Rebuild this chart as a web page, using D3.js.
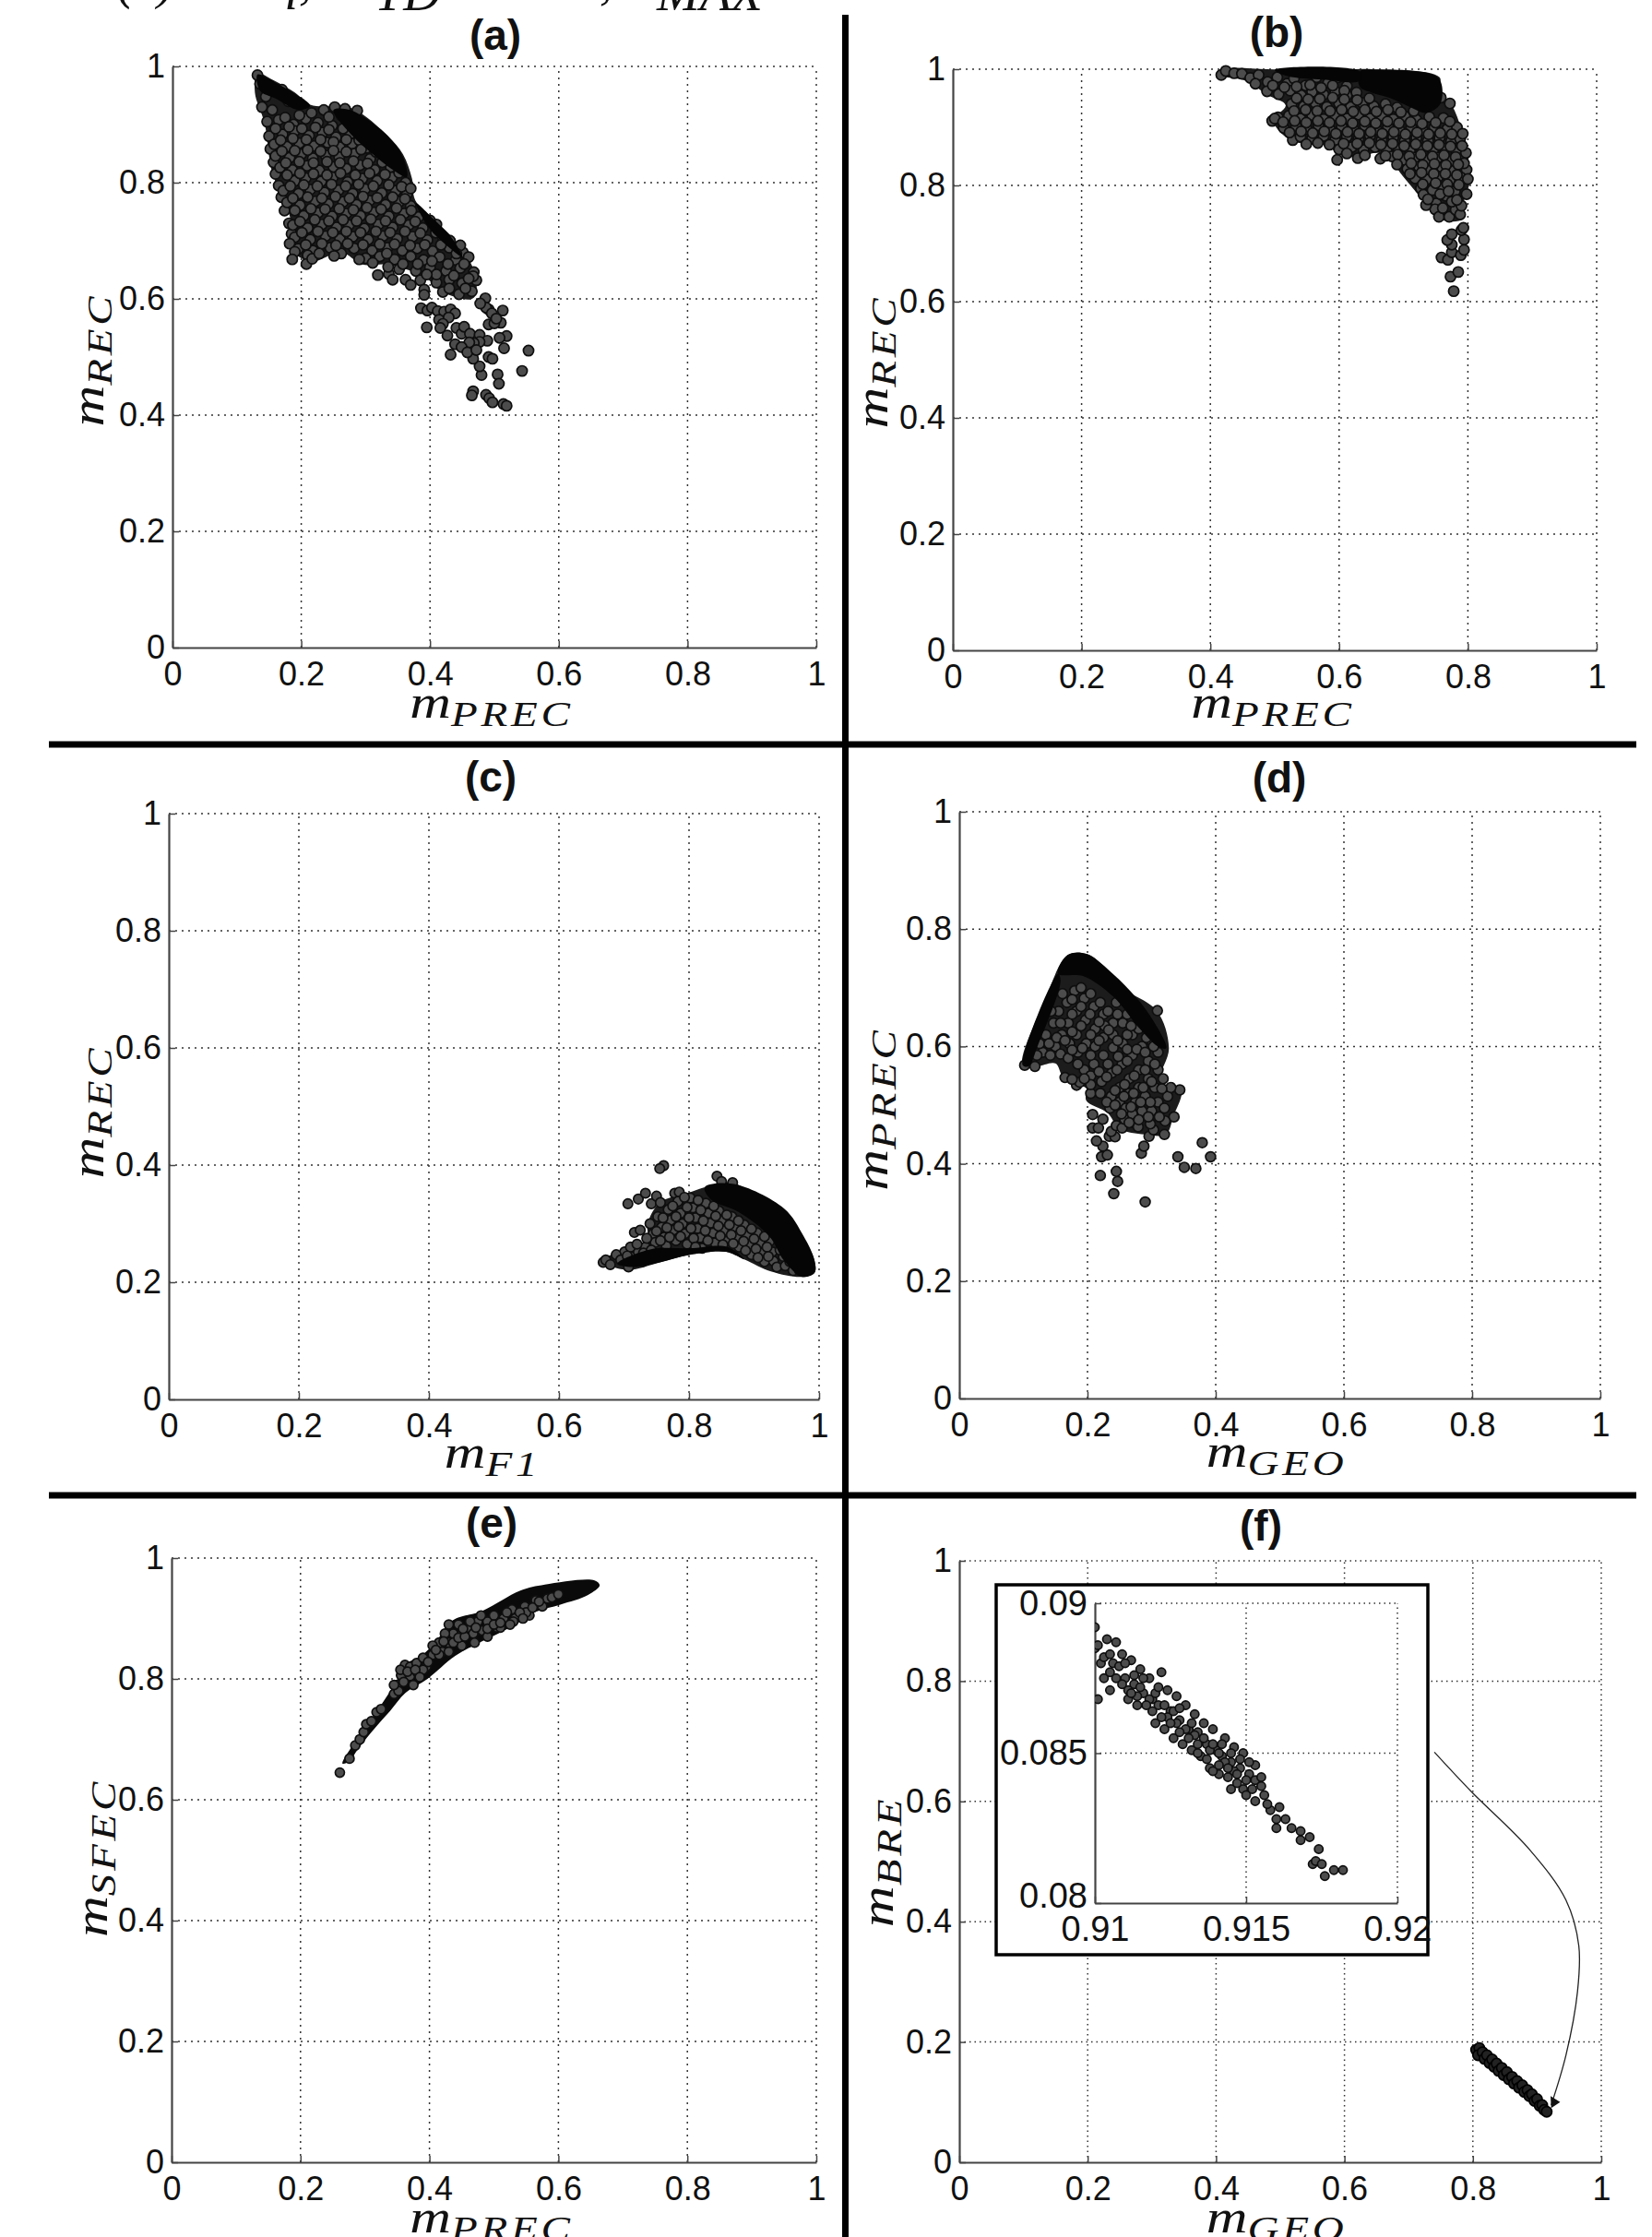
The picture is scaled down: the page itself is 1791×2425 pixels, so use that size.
<!DOCTYPE html>
<html>
<head>
<meta charset="utf-8">
<script src="https://cdn.jsdelivr.net/npm/d3@7"></script>
<style>
  html, body { margin: 0; padding: 0; background: #fff; }
  svg { display: block; }
  text { font-family: "Liberation Sans", Arial, sans-serif; fill: #111; }
  .math { font-family: "Liberation Serif", serif; font-style: italic; }
</style>
</head>
<body>
<div id="chart"></div>
<script>
const unitTicks = [0, 0.2, 0.4, 0.6, 0.8, 1];
const insetXTicks = [0.91, 0.915, 0.92];
const insetYTicks = [0.08, 0.085, 0.09];

// cloud outlines, the overplotted marks fuse into these
const hullA = [[.132,.988],[.157,.976],[.19,.955],[.214,.934],[.25,.931],[.276,.929],[.295,.918],[.334,.881],[.358,.849],[.372,.807],[.377,.77],[.405,.738],[.439,.701],[.46,.669],[.472,.632],[.467,.601],[.42,.611],[.391,.638],[.334,.659],[.295,.659],[.262,.68],[.214,.664],[.181,.69],[.186,.717],[.179,.754],[.155,.817],[.143,.902],[.128,.955]];
const bandA = [[.25,.925],[.276,.925],[.334,.881],[.358,.844],[.364,.81],[.345,.82],[.31,.85],[.28,.88]];
const bandA2 = [[.132,.986],[.157,.974],[.19,.953],[.214,.932],[.196,.925],[.16,.945],[.136,.958]];
const bandA3 = [[.378,.765],[.405,.738],[.435,.703],[.45,.672],[.43,.688],[.4,.72]];
const pointsA = [
[.132,.985],[.136,.97],[.15,.968],[.17,.96],[.145,.948],[.139,.93],[.155,.925],[.18,.94],[.198,.936],[.147,.905],
[.15,.88],[.152,.858],[.157,.835],[.16,.815],[.165,.795],[.169,.775],[.174,.752],[.181,.73],[.185,.712],
[.235,.925],[.252,.93],[.268,.927],[.287,.924],[.165,.908],[.188,.9],[.207,.91],[.226,.903],[.248,.898],[.271,.904],
[.171,.883],[.19,.889],[.212,.881],[.233,.886],[.254,.878],[.276,.884],[.298,.88],
[.158,.866],[.178,.862],[.197,.868],[.22,.863],[.241,.869],[.26,.861],[.279,.867],[.302,.86],[.322,.864],
[.16,.846],[.182,.843],[.2,.849],[.218,.842],[.238,.847],[.259,.844],[.283,.85],[.307,.841],[.33,.846],
[.167,.826],[.186,.822],[.209,.829],[.228,.821],[.25,.827],[.27,.824],[.291,.83],[.314,.822],[.339,.827],
[.19,.803],[.207,.808],[.231,.802],[.249,.809],[.272,.801],[.295,.807],[.318,.803],[.341,.809],[.362,.8],
[.172,.786],[.196,.781],[.214,.788],[.236,.783],[.258,.787],[.28,.781],[.299,.789],[.325,.782],[.347,.786],[.364,.78],
[.178,.766],[.198,.761],[.222,.768],[.242,.763],[.265,.767],[.286,.762],[.306,.769],[.331,.762],[.352,.767],[.37,.76],
[.204,.743],[.226,.748],[.248,.742],[.27,.747],[.292,.743],[.313,.749],[.336,.742],[.36,.747],[.382,.741],
[.187,.727],[.21,.722],[.232,.728],[.255,.723],[.274,.727],[.298,.721],[.32,.728],[.342,.723],[.367,.727],[.389,.722],[.41,.728],
[.19,.706],[.214,.702],[.238,.708],[.26,.703],[.28,.707],[.304,.702],[.327,.708],[.349,.703],[.373,.707],[.396,.701],[.42,.706],
[.182,.695],[.195,.686],[.218,.683],[.245,.688],[.282,.687],[.31,.683],[.334,.688],[.357,.683],[.38,.687],[.404,.682],[.43,.688],[.451,.68],
[.19,.681],[.21,.675],[.262,.678],[.3,.67],[.322,.673],[.345,.668],[.37,.673],[.39,.667],[.415,.672],[.44,.667],[.46,.672],
[.319,.641],[.336,.643],[.342,.633],[.362,.633],[.37,.624],[.335,.655],[.352,.651],[.378,.648],[.4,.654],[.425,.648],[.447,.653],[.468,.646],
[.385,.632],[.41,.628],[.43,.633],[.45,.627],[.472,.632],[.42,.612],[.445,.608],[.465,.613],[.447,.692],[.467,.639],[.486,.601],
[.513,.58],[.553,.511],[.543,.476],[.515,.515],[.519,.536],[.508,.533],[.51,.559],[.491,.556],[.5,.558],[.491,.582],[.505,.47],[.507,.454],
[.491,.5],[.497,.497],[.48,.469],[.477,.484],[.467,.497],[.432,.504],[.467,.441],[.465,.434],[.487,.435],[.492,.429],[.497,.422],[.514,.419],[.519,.416],
[.395,.551],[.386,.584],[.396,.58],[.403,.585],[.412,.579],[.422,.578],[.432,.582],[.439,.575],[.414,.564],[.429,.568],[.42,.557],[.416,.55],
[.427,.537],[.441,.55],[.449,.54],[.453,.552],[.462,.54],[.477,.538],[.489,.528],[.477,.526],[.468,.524],[.461,.525],[.439,.522],[.449,.517],[.458,.508],[.472,.512],
[.391,.616],[.391,.607],[.186,.668],[.208,.66],[.217,.669],[.487,.585],[.496,.575],[.503,.566],[.478,.592]
];
const extraA = [
[.175,.912],[.197,.916],[.216,.92],[.243,.913],[.262,.916],[.16,.893],[.181,.896],[.201,.893],[.222,.895],[.243,.891],[.265,.893],[.287,.892],
[.168,.873],[.187,.876],[.208,.874],[.23,.874],[.25,.87],[.27,.874],[.29,.873],[.31,.871],
[.17,.854],[.19,.855],[.21,.856],[.23,.854],[.25,.855],[.27,.853],[.293,.857],[.316,.853],
[.176,.834],[.197,.836],[.219,.834],[.24,.836],[.26,.834],[.281,.837],[.303,.833],[.326,.835],[.349,.836],
[.178,.813],[.198,.816],[.219,.815],[.24,.813],[.261,.816],[.284,.813],[.306,.816],[.33,.814],[.352,.817],
[.183,.794],[.204,.796],[.225,.794],[.247,.797],[.269,.794],[.289,.797],[.312,.794],[.336,.796],[.356,.793],[.37,.79],
[.187,.773],[.21,.775],[.232,.773],[.253,.776],[.275,.773],[.296,.776],[.318,.774],[.342,.775],[.361,.772],
[.19,.752],[.215,.755],[.237,.754],[.259,.755],[.281,.753],[.302,.757],[.324,.754],[.348,.756],[.371,.752],
[.198,.733],[.221,.736],[.243,.734],[.265,.736],[.286,.734],[.308,.737],[.331,.734],[.354,.736],[.377,.733],[.4,.735],
[.201,.714],[.226,.716],[.249,.714],[.27,.716],[.292,.714],[.316,.716],[.338,.714],[.361,.716],[.385,.713],[.409,.714],[.431,.7],
[.207,.693],[.232,.695],[.254,.692],[.272,.695],[.296,.693],[.322,.694],[.345,.694],[.369,.692],[.392,.693],[.417,.693],[.441,.678],
[.228,.678],[.251,.674],[.29,.668],[.311,.662],[.333,.678],[.358,.66],[.381,.66],[.403,.665],[.428,.66],[.453,.66],[.41,.642],[.437,.64],[.46,.635],[.395,.642],[.43,.618],[.455,.618]
];

const hullB = [[.414,.99],[.424,1],[.488,1],[.579,.997],[.651,1],[.756,.986],[.756,.964],[.775,.938],[.79,.896],[.797,.856],[.804,.811],[.794,.774],[.792,.742],[.756,.742],[.727,.779],[.699,.816],[.68,.843],[.661,.856],[.627,.848],[.598,.856],[.579,.869],[.526,.877],[.498,.911],[.517,.938],[.488,.956],[.455,.98]];
const bandB = [[.632,.996],[.651,.999],[.754,.985],[.757,.94],[.735,.925],[.71,.935],[.68,.95],[.65,.96],[.632,.97]];
const bandB2 = [[.5,.999],[.632,.996],[.632,.98],[.575,.982],[.52,.988]];
const pointsB = [
[.417,.99],[.424,.997],[.437,.993],[.449,.992],[.462,.985],[.475,.99],[.489,.978],[.504,.986],[.519,.975],[.53,.984],[.548,.972],[.565,.986],[.583,.977],[.598,.986],[.612,.971],
[.488,.962],[.506,.957],[.524,.963],[.541,.955],[.558,.961],[.576,.956],[.594,.962],[.612,.955],[.627,.96],
[.526,.94],[.545,.936],[.563,.942],[.581,.935],[.6,.941],[.618,.935],[.636,.942],[.654,.936],[.672,.94],[.69,.934],
[.505,.917],[.522,.92],[.54,.915],[.558,.921],[.576,.914],[.594,.92],[.612,.915],[.63,.922],[.648,.915],[.666,.92],[.684,.914],[.702,.919],[.72,.913],[.74,.918],[.762,.916],
[.496,.911],[.5,.915],[.514,.899],[.533,.902],[.55,.897],[.568,.903],[.586,.896],[.604,.902],[.622,.897],[.64,.903],[.658,.896],[.676,.901],[.694,.895],[.712,.9],[.73,.895],[.748,.9],[.768,.897],[.783,.9],
[.528,.878],[.54,.884],[.558,.88],[.576,.885],[.594,.878],[.612,.884],[.63,.879],[.648,.885],[.666,.878],[.684,.883],[.702,.877],[.72,.882],[.738,.877],[.756,.882],[.774,.876],[.788,.88],
[.597,.844],[.629,.847],[.6,.862],[.62,.866],[.638,.861],[.656,.866],[.674,.86],[.692,.864],[.71,.859],[.728,.864],[.746,.858],[.764,.863],[.782,.858],
[.664,.846],[.682,.85],[.7,.844],[.718,.848],[.736,.843],[.754,.848],[.772,.842],[.79,.847],[.797,.856],
[.706,.828],[.724,.832],[.742,.826],[.76,.83],[.778,.825],[.798,.827],[.718,.812],[.736,.81],[.754,.815],[.772,.809],[.79,.813],[.8,.811],
[.727,.795],[.731,.784],[.745,.792],[.762,.796],[.78,.79],[.798,.785],[.751,.769],[.749,.759],[.755,.746],[.771,.746],[.761,.761],[.781,.758],[.788,.75],[.766,.782],[.757,.785],[.775,.772],[.79,.765],
[.735,.766],[.778,.618],[.773,.643],[.785,.651],[.759,.676],[.769,.672],[.775,.685],[.789,.68],[.794,.689],[.775,.698],[.768,.706],[.775,.716],[.794,.707],[.79,.723],[.793,.727],[.772,.941],[.758,.951]
];
const extraB = [
[.47,.975],[.497,.972],[.515,.969],[.534,.97],[.555,.973],[.572,.968],[.59,.972],[.608,.963],[.534,.95],[.552,.948],[.57,.949],[.59,.951],[.608,.948],[.628,.947],[.647,.95],
[.53,.928],[.548,.93],[.566,.928],[.586,.928],[.604,.93],[.622,.927],[.64,.93],[.658,.927],[.676,.93],[.696,.926],[.716,.928],
[.513,.909],[.531,.911],[.549,.908],[.567,.911],[.585,.908],[.603,.911],[.621,.907],[.64,.91],[.657,.907],[.675,.91],[.693,.907],[.711,.909],[.729,.906],[.75,.908],[.772,.91],
[.523,.891],[.541,.893],[.559,.89],[.577,.893],[.595,.889],[.613,.892],[.631,.889],[.649,.892],[.667,.889],[.685,.892],[.703,.888],[.721,.891],[.739,.888],[.757,.89],[.775,.888],[.792,.889],
[.549,.871],[.567,.873],[.585,.87],[.607,.872],[.628,.872],[.647,.873],[.665,.87],[.683,.872],[.701,.868],[.719,.871],[.737,.868],[.755,.87],[.773,.867],[.791,.868],
[.612,.855],[.64,.852],[.672,.851],[.691,.853],[.709,.85],[.727,.853],[.745,.85],[.763,.852],[.781,.849],[.794,.838],
[.69,.836],[.712,.838],[.73,.835],[.748,.837],[.766,.835],[.785,.836],[.71,.82],[.728,.822],[.747,.82],[.765,.82],[.783,.818],[.73,.802],[.75,.804],[.768,.802],[.786,.801],[.738,.776],[.77,.79],[.783,.775]
];

const hullC = [[.663,.234],[.701,.258],[.736,.273],[.736,.299],[.755,.336],[.797,.352],[.843,.368],[.867,.37],[.913,.341],[.946,.32],[.974,.279],[.993,.237],[.993,.216],[.974,.209],[.927,.218],[.885,.239],[.857,.252],[.801,.247],[.755,.234],[.707,.221],[.674,.229]];
const bandC = [[.824,.362],[.867,.368],[.946,.326],[.976,.279],[.993,.237],[.993,.216],[.974,.209],[.946,.237],[.923,.279],[.876,.32],[.834,.341]];
const bandC2 = [[.69,.232],[.74,.256],[.8,.258],[.86,.26],[.885,.239],[.857,.252],[.801,.247],[.755,.234],[.712,.226]];
const pointsC = [
[.761,.399],[.755,.394],[.706,.334],[.722,.342],[.733,.352],[.742,.334],[.75,.347],[.756,.336],[.778,.352],[.785,.354],[.843,.381],[.85,.372],[.867,.37],[.716,.285],[.725,.289],
[.668,.234],[.672,.238],[.701,.252],[.707,.226],[.679,.23],[.688,.247],[.695,.238],[.712,.243],[.722,.252],[.733,.26],[.728,.235],
[.74,.3],[.745,.283],[.748,.268],[.752,.312],[.758,.294],[.762,.277],[.765,.262],[.768,.324],[.772,.306],[.776,.289],[.78,.271],[.783,.338],[.787,.318],[.79,.3],[.794,.283],[.797,.265],
[.802,.344],[.806,.327],[.81,.31],[.813,.292],[.817,.276],[.82,.258],[.826,.335],[.83,.318],[.833,.301],[.837,.284],[.84,.267],[.846,.322],[.85,.305],[.853,.288],[.857,.27],
[.866,.312],[.87,.295],[.873,.277],[.877,.26],[.885,.298],[.889,.28],[.892,.264],[.896,.247],[.905,.284],[.909,.267],[.912,.25],[.916,.235],[.924,.27],[.928,.252],[.93,.236],[.935,.226],[.945,.244],[.948,.228],[.96,.22],[.975,.235],[.985,.225]
];
const extraC = [
[.75,.287],[.756,.271],[.76,.31],[.766,.293],[.77,.277],[.775,.33],[.78,.312],[.784,.295],[.787,.278],[.793,.345],[.797,.328],[.8,.31],[.803,.292],[.807,.275],[.81,.26],
[.814,.34],[.818,.323],[.822,.305],[.825,.288],[.829,.271],[.838,.33],[.841,.313],[.845,.296],[.848,.279],[.852,.264],[.858,.315],[.862,.298],[.865,.281],[.868,.266],
[.876,.305],[.88,.288],[.884,.27],[.887,.254],[.896,.291],[.9,.274],[.903,.257],[.906,.242],[.916,.278],[.92,.26],[.922,.244],[.94,.255],[.955,.235],[.97,.22],
[.71,.26],[.72,.265],[.705,.245],[.73,.25],[.742,.255],[.758,.25],[.735,.275]
];

const hullD = [[.099,.568],[.135,.682],[.169,.756],[.198,.758],[.226,.737],[.25,.703],[.308,.661],[.327,.597],[.313,.539],[.346,.526],[.334,.481],[.322,.45],[.289,.45],[.25,.46],[.231,.487],[.198,.508],[.198,.529],[.183,.534],[.162,.547],[.15,.571],[.121,.566]];
const bandD = [[.154,.724],[.169,.756],[.198,.758],[.226,.737],[.289,.666],[.323,.597],[.31,.6],[.28,.632],[.24,.685],[.193,.72]];
const bandD2 = [[.099,.568],[.154,.724],[.158,.712],[.122,.6],[.108,.566]];
const pointsD = [
[.344,.526],[.335,.48],[.321,.473],[.32,.45],[.379,.436],[.392,.412],[.341,.412],[.351,.394],[.369,.392],[.29,.335],[.241,.349],[.247,.37],[.245,.387],[.22,.38],[.222,.412],[.231,.415],[.224,.43],[.214,.439],[.284,.418],[.288,.43],
[.208,.484],[.208,.461],[.217,.461],[.224,.476],[.234,.447],[.243,.446],[.237,.455],[.245,.465],[.254,.461],[.258,.476],[.272,.47],[.279,.463],[.296,.447],[.303,.458],[.298,.468],[.309,.661],[.102,.568],[.118,.566],[.183,.534],[.165,.547],[.188,.539],[.176,.544],
[.13,.59],[.142,.585],[.15,.6],[.135,.62],[.147,.64],[.16,.62],[.172,.605],[.158,.587],[.17,.58],[.185,.59],[.198,.605],[.183,.62],[.17,.64],[.155,.66],[.168,.675],[.183,.66],[.197,.645],[.212,.63],[.225,.615],[.212,.6],
[.18,.695],[.195,.682],[.21,.668],[.225,.655],[.24,.64],[.227,.635],[.24,.62],[.255,.605],[.24,.598],[.225,.585],[.21,.57],[.195,.56],[.185,.57],[.205,.55],[.222,.54],[.238,.555],[.254,.57],[.27,.585],[.285,.6],[.3,.61],[.27,.62],
[.255,.64],[.28,.63],[.205,.52],[.22,.52],[.237,.515],[.25,.53],[.265,.545],[.28,.56],[.295,.575],[.31,.59],[.31,.56],[.295,.545],[.28,.53],[.265,.52],[.25,.505],[.235,.495],[.26,.495],[.275,.505],[.29,.515],[.305,.53],[.318,.545],[.31,.505],[.3,.49],[.285,.49],[.27,.485],[.325,.515],[.33,.53],[.32,.495]
];
const extraD = [
[.121,.585],[.125,.605],[.14,.605],[.152,.615],[.143,.66],[.158,.64],[.165,.61],[.176,.594],[.176,.625],[.19,.635],[.176,.655],[.161,.69],[.176,.68],[.19,.668],[.204,.655],[.218,.642],[.205,.62],[.192,.597],[.205,.585],[.218,.61],
[.19,.7],[.205,.69],[.22,.675],[.232,.66],[.247,.655],[.233,.628],[.247,.61],[.262,.62],[.262,.595],[.248,.583],[.232,.57],[.218,.557],[.205,.535],[.195,.545],[.23,.548],[.246,.56],[.262,.575],[.277,.595],[.292,.615],[.303,.6],
[.29,.59],[.305,.57],[.29,.56],[.273,.55],[.258,.535],[.243,.525],[.23,.505],[.243,.5],[.257,.515],[.272,.52],[.287,.53],[.3,.54],[.316,.528],[.298,.505],[.283,.505],[.268,.497],[.253,.485],[.265,.47],[.28,.475],[.295,.48],[.312,.48],[.262,.655],[.245,.675],[.268,.635]
];

const hullE = [[.265,.66],[.282,.692],[.296,.714],[.325,.757],[.349,.797],[.361,.823],[.387,.838],[.411,.863],[.435,.896],[.483,.913],[.541,.946],[.579,.956],[.656,.963],[.664,.955],[.646,.939],[.603,.923],[.565,.911],[.521,.883],[.483,.863],[.44,.838],[.397,.8],[.363,.777],[.339,.747],[.31,.712],[.286,.679],[.277,.664]];
const pointsE = [
[.261,.645],[.276,.668],[.285,.69],[.292,.7],[.298,.712],[.35,.79],[.356,.806],[.362,.823],[.37,.82],[.38,.826],[.37,.805],[.382,.81],[.395,.82],[.405,.84],[.39,.835],[.415,.86],[.405,.855],[.42,.845],[.43,.86],
[.43,.89],[.445,.89],[.437,.875],[.45,.873],[.46,.885],[.475,.895],[.468,.875],[.482,.88],[.49,.895],[.5,.905],[.505,.885],[.515,.9],[.528,.915],[.533,.9],[.548,.92],[.555,.905],[.565,.93],[.575,.92],[.583,.933],
[.345,.775],[.352,.78],[.36,.795],[.375,.79],[.39,.815],[.415,.84],[.43,.845],[.45,.855],[.47,.86],[.49,.87],[.51,.885],[.53,.895],[.55,.91]
];
const extraE = [
[.355,.815],[.366,.812],[.378,.815],[.385,.803],[.398,.828],[.41,.848],[.424,.875],[.422,.862],[.437,.86],[.445,.868],[.455,.87],[.452,.883],[.463,.895],[.472,.885],[.48,.905],[.49,.883],[.5,.89],[.51,.893],[.52,.91],[.525,.89],[.54,.91],[.545,.9],[.56,.918],[.57,.928],[.59,.935],[.6,.94],
[.302,.725],[.31,.73],[.318,.745],[.325,.75],[.345,.79]
];

const pointsF = [
[.805,.187],[.81,.19],[.808,.178],[.815,.183],[.818,.172],[.822,.178],[.826,.165],[.83,.171],[.833,.159],[.837,.164],[.84,.152],[.845,.157],[.848,.145],[.853,.15],[.856,.138],[.861,.142],[.864,.131],[.869,.135],[.872,.124],[.877,.128],[.88,.117],[.885,.12],[.888,.11],[.892,.113],[.896,.102],[.9,.105],[.904,.094],[.908,.095],[.911,.087],[.915,.084]
];
const insetPoints = [
[.9100,.0892],[.9100,.0885],[.9102,.0880],[.9104,.0888],[.9103,.0875],[.9107,.0887],[.9106,.0880],[.9109,.0883],[.9110,.0875],[.9112,.0881],[.9113,.0873],[.9115,.0878],[.9116,.0870],[.9118,.0875],[.9119,.0868],[.9122,.0877],[.9121,.0866],[.9124,.0871],[.9125,.0864],[.9127,.0869],[.9128,.0861],[.9130,.0866],
[.9131,.0858],[.9133,.0863],[.9134,.0857],[.9136,.0860],[.9137,.0853],[.9139,.0858],[.9140,.0851],[.9142,.0849],[.9143,.0855],[.9145,.0847],[.9146,.0852],[.9148,.0845],[.9149,.0850],[.9151,.0843],[.9153,.0846],[.9153,.0841],[.9145,.0838],[.9149,.0838],[.9153,.0834],[.9156,.0836],[.9158,.0831],[.9161,.0832],[.9160,.0828],[.9160,.0825],[.9163,.0828],[.9165,.0825],[.9168,.0824],[.9168,.0821],[.9171,.0822],[.9174,.0818],[.9172,.0813],[.9173,.0814],[.9175,.0813],[.9176,.0809],[.9179,.0811],[.9182,.0811],
[.9105,.0871],[.9111,.0868],[.9114,.0866],[.9120,.0860],[.9123,.0858],[.9126,.0855],[.9129,.0853],[.9132,.0851],[.9135,.0849],[.9138,.0845],[.9141,.0843],[.9139,.0844],[.9144,.0842],[.9147,.0840],[.9101,.0868],
[.9101,.0886],[.9103,.0882],[.9105,.0883],[.9108,.0879],[.9110,.0880],[.9111,.0871],[.9113,.0876],[.9115,.0872],[.9116,.0875],[.9118,.0868],[.9120,.0870],[.9121,.0872],[.9123,.0866],[.9124,.0862],[.9126,.0864],[.9127,.0860],[.9128,.0865],[.9130,.0858],[.9132,.0860],[.9133,.0856],[.9134,.0853],[.9136,.0855],[.9138,.0851],[.9139,.0853],[.9141,.0850],[.9142,.0853],[.9143,.0847],[.9145,.0850],[.9146,.0844],[.9148,.0848],[.9150,.0841],[.9151,.0847],[.9152,.0838],[.9155,.0842],[.9155,.0839],[.9157,.0833],[.9150,.0836],[.9147,.0843],[.9144,.0845],[.9141,.0846],[.9137,.0848],[.9134,.0850],[.9131,.0855],[.9128,.0857],[.9125,.0860],[.9122,.0862],[.9119,.0864],[.9117,.0866],[.9114,.0869],[.9112,.0870],[.9109,.0873],[.9107,.0875],[.9105,.0877]
];
const arrowCurve = [[.74,.682],[.797,.617],[.889,.519],[.945,.436],[.965,.36],[.963,.284],[.945,.178],[.922,.095]];
const arrowHead = [[.922,.09],[.921,.11],[.936,.1]];

const panels = [
  { id: "(a)", titleX: 537, titleY: 54, x0: 187, x1: 885, yTop: 72, yBot: 702, xLabel: ["m", "PREC"], yLabel: ["m", "REC"], xlx: 533, xly: 778, ylx: 112, yly: 390, r: 5.6, hull: hullA, bands: [bandA, bandA2, bandA3], points: pointsA.concat(extraA) },
  { id: "(b)", titleX: 1384, titleY: 51, x0: 1033, x1: 1731, yTop: 75, yBot: 705, xLabel: ["m", "PREC"], yLabel: ["m", "REC"], xlx: 1380, xly: 778, ylx: 962, yly: 392, r: 5.6, hull: hullB, bands: [bandB, bandB2], points: pointsB.concat(extraB) },
  { id: "(c)", titleX: 532, titleY: 858, x0: 183, x1: 888, yTop: 882, yBot: 1517, xLabel: ["m", "F1"], yLabel: ["m", "REC"], xlx: 534, xly: 1591, ylx: 112, yly: 1205, r: 5.2, hull: hullC, bands: [bandC, bandC2], points: pointsC.concat(extraC) },
  { id: "(d)", titleX: 1387, titleY: 859, x0: 1040, x1: 1735, yTop: 880, yBot: 1516, xLabel: ["m", "GEO"], yLabel: ["m", "PREC"], xlx: 1384, xly: 1590, ylx: 962, yly: 1202, r: 5.4, hull: hullD, bands: [bandD, bandD2], points: pointsD.concat(extraD) },
  { id: "(e)", titleX: 533, titleY: 1667, x0: 186, x1: 885, yTop: 1689, yBot: 2344, xLabel: ["m", "PREC"], yLabel: ["m", "SFEC"], xlx: 533, xly: 2420, ylx: 116, yly: 2014, r: 5, hull: hullE, bands: [], points: pointsE.concat(extraE) },
  { id: "(f)", titleX: 1367, titleY: 1670, x0: 1040, x1: 1736, yTop: 1692, yBot: 2344, xLabel: ["m", "GEO"], yLabel: ["m", "BRE"], xlx: 1384, xly: 2420, ylx: 968, yly: 2018, r: 5.6, hull: null, bands: [], points: pointsF },
];

const svg = d3.select("#chart").append("svg").attr("width", 1791).attr("height", 2425);
const line = d3.line();
const blob = d3.line().curve(d3.curveCatmullRomClosed);

function mathLabel(g, label) {
  const t = g.attr("transform", g.attr("transform") + " scale(1.24,1)")
    .append("text").attr("class", "math").attr("text-anchor", "middle");
  t.append("tspan").attr("font-size", 50).text(label[0]);
  t.append("tspan").attr("font-size", 38).attr("dy", 9).attr("letter-spacing", 3).text(label[1]);
}

function grid(g, x, y, xTicks, yTicks, dash) {
  const style = (s) => s.attr("stroke", "#333").attr("stroke-width", 1.5).attr("stroke-dasharray", dash);
  g.selectAll(".gx").data(xTicks.filter((d, i) => i > 0)).join("line")
    .attr("class", "gx")
    .attr("x1", (d) => x(d)).attr("x2", (d) => x(d))
    .attr("y1", y.range()[0]).attr("y2", y.range()[1]).call(style);
  g.selectAll(".gy").data(yTicks.filter((d, i) => i > 0)).join("line")
    .attr("class", "gy")
    .attr("x1", x.range()[0]).attr("x2", x.range()[1])
    .attr("y1", (d) => y(d)).attr("y2", (d) => y(d)).call(style);
}

function axes(g, x, y, xTicks, yTicks, fontSize, pad) {
  const ax = g.append("g").attr("transform", `translate(0,${y.range()[0]})`)
    .call(d3.axisBottom(x).tickValues(xTicks).tickFormat(String).tickSizeOuter(0).tickSizeInner(-7).tickPadding(pad));
  const ay = g.append("g").attr("transform", `translate(${x.range()[0]},0)`)
    .call(d3.axisLeft(y).tickValues(yTicks).tickFormat(String).tickSizeOuter(0).tickSizeInner(-7).tickPadding(8));
  [ax, ay].forEach((a) => {
    a.select(".domain").attr("stroke", "#444").attr("stroke-width", 2.2);
    a.selectAll(".tick line").attr("stroke", "#444").attr("stroke-width", 1.5);
    a.selectAll("text").attr("font-size", fontSize).attr("font-family", "Liberation Sans").attr("fill", "#111");
  });
  return ay;
}

function dots(g, x, y, data, r) {
  g.selectAll("circle.dot").data(data).join("circle")
    .attr("class", "dot")
    .attr("cx", (d) => x(d[0])).attr("cy", (d) => y(d[1])).attr("r", r)
    .attr("fill", "#4c4c4c").attr("stroke", "#0e0e0e").attr("stroke-width", 1.7);
}

panels.forEach((p) => {
  const x = d3.scaleLinear([0, 1], [p.x0, p.x1]);
  const y = d3.scaleLinear([0, 1], [p.yBot, p.yTop]);
  const g = svg.append("g");

  grid(g, x, y, unitTicks, unitTicks, p.id === "(f)" ? "1.5 4" : "2 5");
  axes(g, x, y, unitTicks, unitTicks, 36, 15);

  if (p.hull) {
    g.append("path").attr("d", blob(p.hull.map((d) => [x(d[0]), y(d[1])]))).attr("fill", p.id === "(e)" ? "#0a0a0a" : "#1c1c1c");
  }
  dots(g, x, y, p.points, p.r);
  p.bands.forEach((b) => {
    g.append("path").attr("d", blob(b.map((d) => [x(d[0]), y(d[1])]))).attr("fill", "#050505");
  });

  g.append("text").attr("x", p.titleX).attr("y", p.titleY).attr("text-anchor", "middle")
    .attr("font-size", 46).attr("font-weight", "bold").attr("fill", "#000").text(p.id);

  mathLabel(g.append("g").attr("transform", `translate(${p.xlx},${p.xly})`), p.xLabel);
  mathLabel(g.append("g").attr("transform", `translate(${p.ylx},${p.yly}) rotate(-90)`), p.yLabel);

  if (p.id === "(f)") {
    g.selectAll("circle.dot").attr("fill", "#222").attr("stroke", "#000");
    const curve = d3.line().x((d) => x(d[0])).y((d) => y(d[1])).curve(d3.curveCatmullRom);
    g.append("path").attr("d", curve(arrowCurve)).attr("fill", "none").attr("stroke", "#222").attr("stroke-width", 1.3);
    g.append("path").attr("d", line(arrowHead.map((d) => [x(d[0]), y(d[1])])) + "Z").attr("fill", "#111");

    // inset zoom
    g.append("rect").attr("x", 1080).attr("y", 1718).attr("width", 468).attr("height", 401)
      .attr("fill", "#fff").attr("stroke", "#000").attr("stroke-width", 3.5);
    const ix = d3.scaleLinear([0.91, 0.92], [1187, 1515]);
    const iy = d3.scaleLinear([0.08, 0.09], [2063, 1738]);
    const ig = g.append("g");
    grid(ig, ix, iy, insetXTicks, insetYTicks, "1.5 4");
    const iay = axes(ig, ix, iy, insetXTicks, insetYTicks, 38, 14);
    iay.selectAll(".tick text").attr("y", (d) => (d === 0.08 ? -8 : 0));
    svg.append("clipPath").attr("id", "inset-clip").append("rect")
      .attr("x", 1187).attr("y", 1730).attr("width", 330).attr("height", 335);
    const dg = ig.append("g").attr("clip-path", "url(#inset-clip)");
    dots(dg, ix, iy, insetPoints, 4.6);
  }
});

// divider lines
const rule = (x1, y1, x2, y2) => svg.append("line").attr("x1", x1).attr("y1", y1).attr("x2", x2).attr("y2", y2)
  .attr("stroke", "#000").attr("stroke-width", 7);
rule(916.5, 16, 916.5, 2425);
rule(53, 807, 1774, 807);
rule(53, 1621, 1774, 1621);

// caption cropped by the top edge of the picture, only its lower part shows
const topText = [["(c)", 127, -2], ["q,", 296, -2], ["TD", 406, 11], [",", 650, -2], ["MAX", 712, 11]];
svg.selectAll("text.cap").data(topText).join("text").attr("class", "cap math")
  .attr("x", (d) => d[1]).attr("y", (d) => d[2]).attr("font-size", 56).attr("fill", "#111").text((d) => d[0]);
</script>
</body>
</html>
